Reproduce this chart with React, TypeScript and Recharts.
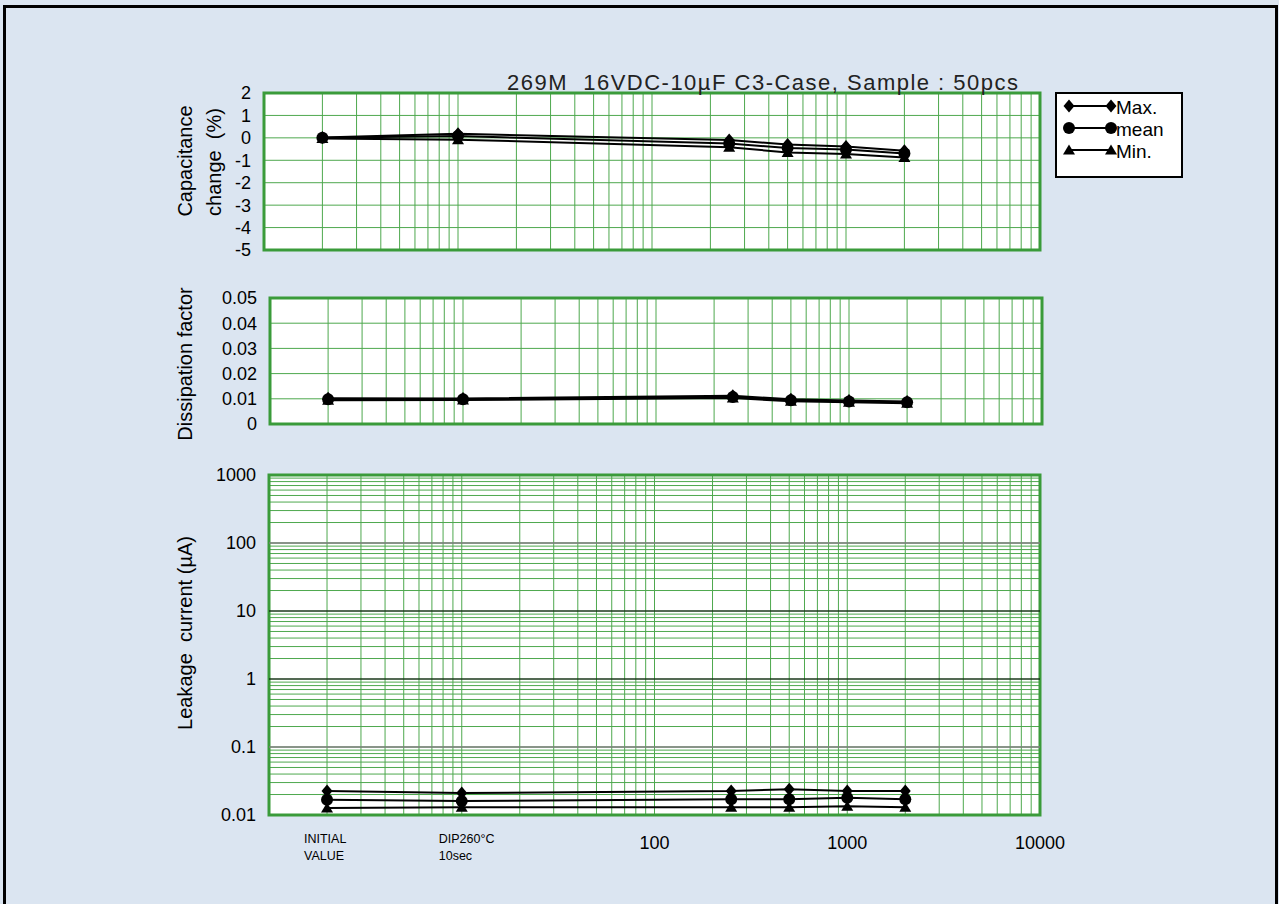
import React from "react";
import {
  LineChart,
  Line,
  XAxis,
  YAxis,
  CartesianGrid,
  ReferenceArea,
  ReferenceLine,
} from "recharts";

// test points (hours); 2 = initial value, 10 = after DIP 260°C 10sec
const hours = [2, 10, 250, 500, 1000, 2000];
const seriesNames = ["Max.", "mean", "Min."];

// capacitance change (%)
const capMax = [0.02, 0.18, -0.1, -0.3, -0.38, -0.58];
const capMean = [0, 0.08, -0.25, -0.45, -0.52, -0.7];
const capMin = [-0.03, -0.08, -0.42, -0.65, -0.72, -0.88];
const capTicks = [-5, -4, -3, -2, -1, 0, 1, 2];

// dissipation factor
const dfMax = [0.0102, 0.0101, 0.0112, 0.0098, 0.0093, 0.0089];
const dfMean = [0.0098, 0.0098, 0.0107, 0.0094, 0.0089, 0.0086];
const dfMin = [0.0094, 0.0095, 0.0103, 0.009, 0.0086, 0.0082];
const dfTicks = [0, 0.01, 0.02, 0.03, 0.04, 0.05];

// leakage current (uA)
const lcMax = [0.0225, 0.021, 0.0225, 0.024, 0.0225, 0.0225];
const lcMean = [0.0167, 0.016, 0.017, 0.017, 0.018, 0.017];
const lcMin = [0.0127, 0.013, 0.013, 0.013, 0.0135, 0.013];

const xGrid = [
  1, 2, 3, 4, 5, 6, 7, 8, 9,
  10, 20, 30, 40, 50, 60, 70, 80, 90,
  100, 200, 300, 400, 500, 600, 700, 800, 900,
  1000, 2000, 3000, 4000, 5000, 6000, 7000, 8000, 9000,
  10000,
];
const yLogGrid = [
  0.01, 0.02, 0.03, 0.04, 0.05, 0.06, 0.07, 0.08, 0.09,
  0.1, 0.2, 0.3, 0.4, 0.5, 0.6, 0.7, 0.8, 0.9,
  1, 2, 3, 4, 5, 6, 7, 8, 9,
  10, 20, 30, 40, 50, 60, 70, 80, 90,
  100, 200, 300, 400, 500, 600, 700, 800, 900,
  1000,
];
const yLogLabels = [0.01, 0.1, 1, 10, 100, 1000];
const xLabels: Record<number, string[]> = {
  2: ["INITIAL", "VALUE"],
  10: ["DIP260°C", "10sec"],
  100: ["100"],
  1000: ["1000"],
  10000: ["10000"],
};

const title = "269M  16VDC-10µF C3-Case, Sample : 50pcs";

const FONT = "'Liberation Sans', Arial, sans-serif";
const GRID = "#4ea84e";
const BORDER = "#3a9b3a";

const toRows = (a: number[], b: number[], c: number[]) =>
  hours.map((h, i) => ({ h, max: a[i], mean: b[i], min: c[i] }));

const capData = toRows(capMax, capMean, capMin);
const dfData = toRows(dfMax, dfMean, dfMin);
const lcData = toRows(lcMax, lcMean, lcMin);

const diamondDot = (p: any) => {
  const { cx, cy, index } = p;
  if (cx == null || cy == null) return <g key={`d${index}`} />;
  return (
    <path
      key={`d${index}`}
      d={`M${cx},${cy - 6.5}L${cx + 5.5},${cy}L${cx},${cy + 6.5}L${cx - 5.5},${cy}Z`}
      fill="#000"
    />
  );
};

const circleDot = (p: any) => {
  const { cx, cy, index } = p;
  if (cx == null || cy == null) return <g key={`c${index}`} />;
  return <circle key={`c${index}`} cx={cx} cy={cy} r={6} fill="#000" />;
};

const triangleDot = (p: any) => {
  const { cx, cy, index } = p;
  if (cx == null || cy == null) return <g key={`t${index}`} />;
  return (
    <path
      key={`t${index}`}
      d={`M${cx},${cy - 5.5}L${cx + 6},${cy + 4.5}L${cx - 6},${cy + 4.5}Z`}
      fill="#000"
    />
  );
};

const seriesLines = () => [
  <Line key="max" dataKey="max" stroke="#000" strokeWidth={2} dot={diamondDot} isAnimationActive={false} />,
  <Line key="mean" dataKey="mean" stroke="#000" strokeWidth={2} dot={circleDot} isAnimationActive={false} />,
  <Line key="min" dataKey="min" stroke="#000" strokeWidth={2} dot={triangleDot} isAnimationActive={false} />,
];

const tickStyle = { fill: "#000", fontSize: 18, fontFamily: FONT };

const LogYTick = (p: any) => {
  const v = p.payload.value;
  if (!yLogLabels.includes(v)) return <g />;
  return (
    <text x={p.x} y={p.y} textAnchor="end" dominantBaseline="central" style={tickStyle}>
      {String(v)}
    </text>
  );
};

const XTick = (p: any) => {
  const v = p.payload.value;
  const lines = xLabels[v];
  if (!lines) return <g />;
  if (lines.length === 1) {
    return (
      <text x={p.x} y={p.y + 28} textAnchor="middle" dominantBaseline="central" style={tickStyle}>
        {lines[0]}
      </text>
    );
  }
  return (
    <g>
      {lines.map((t, i) => (
        <text
          key={t}
          x={p.x - 23}
          y={p.y + 24 + i * 17}
          dominantBaseline="central"
          style={{ fill: "#000", fontSize: 12.5, fontFamily: FONT }}
        >
          {t}
        </text>
      ))}
    </g>
  );
};

const AxisTitle = ({ x, y, text }: { x: number; y: number; text: string }) => (
  <text
    x={x}
    y={y + 7}
    transform={`rotate(-90 ${x} ${y})`}
    textAnchor="middle"
    style={{ fill: "#000", fontSize: 20, fontFamily: FONT, whiteSpace: "pre" }}
  >
    {text}
  </text>
);

const Legend = () => (
  <div
    style={{
      position: "absolute",
      left: 1055,
      top: 92,
      width: 128,
      height: 86,
      background: "#fff",
      border: "2px solid #000",
      boxSizing: "border-box",
    }}
  >
    <svg width={124} height={82}>
      {seriesNames.map((name, i) => {
        const y = 12 + i * 22;
        const mk = [diamondDot, circleDot, triangleDot][i];
        return (
          <g key={name}>
            <line x1={12} y1={y} x2={54} y2={y} stroke="#000" strokeWidth={2} />
            {mk({ cx: 12, cy: y, index: 0 })}
            {mk({ cx: 54, cy: y, index: 1 })}
            <text x={59} y={y + 1} dominantBaseline="central" style={{ fill: "#000", fontSize: 19, fontFamily: FONT }}>
              {name}
            </text>
          </g>
        );
      })}
    </svg>
  </div>
);

export default function App() {
  return (
    <div
      style={{
        position: "fixed",
        left: 0,
        top: 0,
        width: 1279,
        height: 904,
        background: "#dbe5f1",
        overflow: "hidden",
      }}
    >
      <div
        style={{
          position: "absolute",
          left: 3,
          top: 5,
          width: 1275,
          height: 920,
          border: "3px solid #000",
          boxSizing: "border-box",
        }}
      />

      {/* capacitance change */}
      <div style={{ position: "absolute", left: 0, top: 0 }}>
        <LineChart width={1279} height={260} data={capData} margin={{ top: 93, right: 239, bottom: 10, left: 204 }}>
          <CartesianGrid stroke={GRID} fill="#fff" fillOpacity={1} />
          <XAxis dataKey="h" type="number" scale="log" domain={[1, 10000]} ticks={xGrid} interval={0} allowDataOverflow hide />
          <YAxis
            type="number"
            domain={[-5, 2]}
            ticks={capTicks}
            interval={0}
            width={60}
            tickSize={0}
            tickMargin={13}
            axisLine={false}
            tickLine={false}
            tick={tickStyle}
            allowDataOverflow
          />
          <ReferenceArea x1={1} x2={10000} y1={-5} y2={2} fill="none" stroke={BORDER} strokeWidth={3} ifOverflow="visible" />
          {seriesLines()}
        </LineChart>
      </div>

      {/* dissipation factor */}
      <div style={{ position: "absolute", left: 0, top: 0 }}>
        <LineChart width={1279} height={440} data={dfData} margin={{ top: 298, right: 237, bottom: 16, left: 210 }}>
          <CartesianGrid stroke={GRID} fill="#fff" fillOpacity={1} />
          <XAxis dataKey="h" type="number" scale="log" domain={[1, 10000]} ticks={xGrid} interval={0} allowDataOverflow hide />
          <YAxis
            type="number"
            domain={[0, 0.05]}
            ticks={dfTicks}
            interval={0}
            width={60}
            tickSize={0}
            tickMargin={13}
            axisLine={false}
            tickLine={false}
            tick={tickStyle}
            allowDataOverflow
          />
          <ReferenceArea x1={1} x2={10000} y1={0} y2={0.05} fill="none" stroke={BORDER} strokeWidth={3} ifOverflow="visible" />
          {seriesLines()}
        </LineChart>
      </div>

      {/* leakage current */}
      <div style={{ position: "absolute", left: 0, top: 0 }}>
        <LineChart width={1279} height={904} data={lcData} margin={{ top: 475, right: 239, bottom: 49, left: 209 }}>
          <CartesianGrid stroke={GRID} fill="#fff" fillOpacity={1} />
          <XAxis
            dataKey="h"
            type="number"
            scale="log"
            domain={[1, 10000]}
            ticks={xGrid}
            interval={0}
            allowDataOverflow
            height={40}
            tickSize={0}
            tickMargin={0}
            axisLine={false}
            tickLine={false}
            tick={<XTick />}
          />
          <YAxis
            type="number"
            scale="log"
            domain={[0.01, 1000]}
            ticks={yLogGrid}
            interval={0}
            width={60}
            tickSize={0}
            tickMargin={13}
            axisLine={false}
            tickLine={false}
            tick={<LogYTick />}
            allowDataOverflow
          />
          <ReferenceLine y={100} stroke="#7f7f7f" strokeWidth={1.5} />
          <ReferenceLine y={10} stroke="#000" strokeWidth={1} />
          <ReferenceLine y={1} stroke="#000" strokeWidth={1} />
          <ReferenceLine y={0.1} stroke="#7f7f7f" strokeWidth={1.5} />
          <ReferenceArea x1={1} x2={10000} y1={0.01} y2={1000} fill="none" stroke={BORDER} strokeWidth={3} ifOverflow="visible" />
          {seriesLines()}
        </LineChart>
      </div>

      {/* texts */}
      <svg width={1279} height={904} style={{ position: "absolute", left: 0, top: 0, pointerEvents: "none" }}>
        <text
          x={507}
          y={90}
          textLength={511}
          lengthAdjust="spacing"
          style={{ fill: "#222", fontSize: 22, fontFamily: FONT, whiteSpace: "pre" }}
        >
          {title}
        </text>
        <AxisTitle x={185} y={161} text="Capacitance" />
        <AxisTitle x={214} y={162} text="change  (%)" />
        <AxisTitle x={185} y={364} text="Dissipation factor" />
        <AxisTitle x={185} y={633} text="Leakage  current (µA)" />
      </svg>

      <Legend />
    </div>
  );
}
